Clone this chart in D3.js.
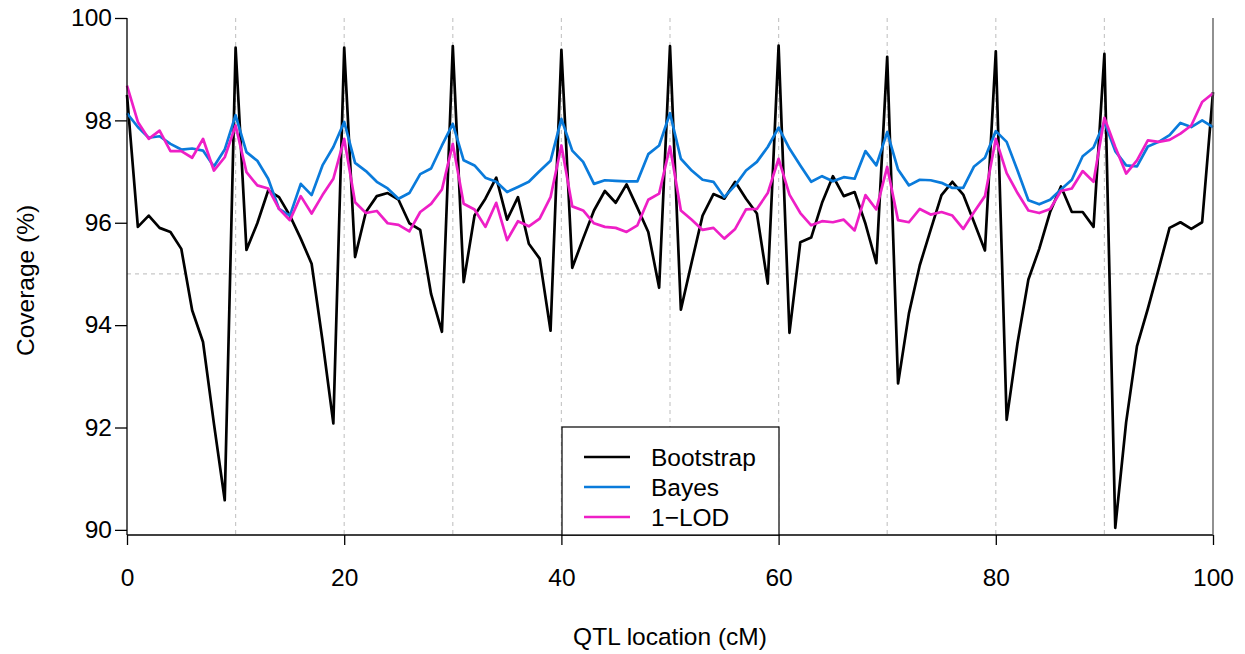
<!DOCTYPE html>
<html>
<head>
<meta charset="utf-8">
<title>Coverage</title>
<script src="https://cdnjs.cloudflare.com/ajax/libs/d3/7.8.5/d3.min.js"></script>
<style>
  body { margin: 0; background: #fff; }
  text { font-family: "Liberation Sans", Arial, sans-serif; }
</style>
</head>
<body>
<div id="chart"></div>
<script>
// QTL locations 0..100 cM
const positions = d3.range(0, 101);

const bootstrap = [
  98.50, 95.92, 96.14, 95.90, 95.82, 95.49, 94.29, 93.67, 92.08, 90.58,
  99.42, 95.47, 95.99, 96.63, 96.50, 96.14, 95.69, 95.20, 93.70, 92.08,
  99.42, 95.33, 96.21, 96.52, 96.58, 96.45, 95.99, 95.86, 94.61, 93.87,
  99.45, 94.84, 96.14, 96.47, 96.88, 96.06, 96.50, 95.59, 95.30, 93.89,
  99.38, 95.12, 95.69, 96.24, 96.62, 96.39, 96.75, 96.29, 95.82, 94.73,
  99.45, 94.30, 95.23, 96.14, 96.56, 96.47, 96.80, 96.47, 96.18, 94.81,
  99.46, 93.85, 95.62, 95.71, 96.39, 96.91, 96.52, 96.60, 95.98, 95.21,
  99.24, 92.86, 94.23, 95.17, 95.86, 96.54, 96.80, 96.55, 96.01, 95.46,
  99.35, 92.15, 93.65, 94.89, 95.49, 96.21, 96.71, 96.21, 96.21, 95.92,
  99.30, 90.04, 92.10, 93.59, 94.32, 95.10, 95.90, 96.01, 95.88, 96.01,
  98.55
];

const bayes = [
  98.14, 97.87, 97.66, 97.69, 97.54, 97.43, 97.45, 97.41, 97.10, 97.43,
  98.10, 97.38, 97.21, 96.86, 96.27, 96.14, 96.76, 96.54, 97.12, 97.48,
  97.97, 97.17, 97.01, 96.80, 96.67, 96.47, 96.58, 96.95, 97.06, 97.51,
  97.93, 97.22, 97.12, 96.88, 96.80, 96.60, 96.70, 96.80, 97.01, 97.21,
  98.03, 97.41, 97.19, 96.76, 96.83, 96.82, 96.81, 96.81, 97.34, 97.51,
  98.14, 97.25, 97.02, 96.84, 96.80, 96.50, 96.73, 97.02, 97.19, 97.48,
  97.86, 97.45, 97.12, 96.80, 96.91, 96.81, 96.89, 96.86, 97.40, 97.12,
  97.77, 97.04, 96.73, 96.84, 96.83, 96.78, 96.68, 96.68, 97.10, 97.27,
  97.79, 97.58, 97.02, 96.44, 96.36, 96.45, 96.65, 96.84, 97.30, 97.47,
  97.97, 97.40, 97.12, 97.10, 97.49, 97.58, 97.71, 97.95, 97.87, 98.00,
  97.87
];

const lod = [
  98.68, 97.97, 97.64, 97.80, 97.40, 97.40, 97.27, 97.64, 97.02, 97.28,
  97.90, 96.99, 96.73, 96.67, 96.27, 96.05, 96.52, 96.18, 96.54, 96.86,
  97.64, 96.40, 96.19, 96.23, 95.99, 95.96, 95.83, 96.21, 96.37, 96.65,
  97.54, 96.37, 96.26, 95.92, 96.39, 95.66, 96.03, 95.93, 96.08, 96.50,
  97.51, 96.32, 96.24, 95.99, 95.92, 95.90, 95.82, 95.95, 96.45, 96.57,
  97.49, 96.24, 96.06, 95.86, 95.90, 95.69, 95.88, 96.26, 96.27, 96.58,
  97.25, 96.55, 96.19, 95.95, 96.03, 96.01, 96.06, 95.85, 96.54, 96.26,
  97.09, 96.05, 96.01, 96.27, 96.16, 96.21, 96.14, 95.88, 96.21, 96.52,
  97.64, 96.97, 96.58, 96.24, 96.19, 96.27, 96.62, 96.67, 97.01, 96.80,
  98.05, 97.48, 96.96, 97.22, 97.61, 97.58, 97.62, 97.74, 97.90, 98.36,
  98.53
];

const seriesNames = ["Bootstrap", "Bayes", "1\u2212LOD"];
const seriesColors = ["#000000", "#0a7bdb", "#ee1fc6"];
const xTicks = [0, 20, 40, 60, 80, 100];
const yTicks = [90, 92, 94, 96, 98, 100];
const xGrid = [10, 20, 30, 40, 50, 60, 70, 80, 90];
const yGrid = [95];

const width = 1245, height = 654;
const mLeft = 127, mRight = 1213, mTop = 18, mBottom = 535;
const fontSize = 24.5;

const svg = d3.select("#chart").append("svg")
  .attr("width", width)
  .attr("height", height);

const x = d3.scaleLinear().domain([0, 100]).range([mLeft, mRight]);
const y = d3.scaleLinear().domain([89.9, 100]).range([mBottom, mTop]);

// grid lines
svg.append("g").selectAll("line")
  .data(xGrid).join("line")
  .attr("x1", d => x(d)).attr("x2", d => x(d))
  .attr("y1", mTop).attr("y2", mBottom)
  .attr("stroke", "#c8c8c8").attr("stroke-width", 1.2)
  .attr("stroke-dasharray", "4,4");

svg.append("g").selectAll("line")
  .data(yGrid).join("line")
  .attr("x1", mLeft).attr("x2", mRight)
  .attr("y1", d => y(d)).attr("y2", d => y(d))
  .attr("stroke", "#c8c8c8").attr("stroke-width", 1.2)
  .attr("stroke-dasharray", "4,4");

// lines
const line = d3.line()
  .x((d, i) => x(positions[i]))
  .y(d => y(d));

[bootstrap, bayes, lod].forEach((s, k) => {
  svg.append("path")
    .datum(s)
    .attr("fill", "none")
    .attr("stroke", seriesColors[k])
    .attr("stroke-width", 2.7)
    .attr("stroke-linejoin", "round")
    .attr("d", line);
});

// axes
const xAxis = svg.append("g")
  .attr("transform", `translate(0,${mBottom})`)
  .call(d3.axisBottom(x).tickValues(xTicks).tickSize(10).tickPadding(24).tickFormat(d3.format("d")));
xAxis.select(".domain").attr("d", `M${mLeft},0H${mRight}`).attr("stroke", "#000").attr("stroke-width", 1.3);
xAxis.selectAll(".tick line").attr("stroke", "#000").attr("stroke-width", 1.3);
xAxis.selectAll(".tick text").attr("font-size", fontSize).attr("fill", "#000");

const yAxis = svg.append("g")
  .attr("transform", `translate(${mLeft},0)`)
  .call(d3.axisLeft(y).tickValues(yTicks).tickSize(12).tickPadding(3).tickFormat(d3.format("d")));
yAxis.select(".domain").attr("d", `M0,${mTop}V${mBottom}`).attr("stroke", "#000").attr("stroke-width", 1.3);
yAxis.selectAll(".tick line").attr("stroke", "#000").attr("stroke-width", 1.3);
yAxis.selectAll(".tick text").attr("font-size", fontSize).attr("fill", "#000");

// right edge
svg.append("line")
  .attr("x1", mRight).attr("x2", mRight)
  .attr("y1", mTop).attr("y2", mBottom)
  .attr("stroke", "#555").attr("stroke-width", 1.3);

// axis titles
svg.append("text")
  .attr("x", (mLeft + mRight) / 2).attr("y", 645)
  .attr("text-anchor", "middle")
  .attr("font-size", fontSize)
  .text("QTL location (cM)");

svg.append("text")
  .attr("transform", `translate(34,${(mTop + mBottom) / 2 + 4}) rotate(-90)`)
  .attr("text-anchor", "middle")
  .attr("font-size", fontSize)
  .text("Coverage (%)");

// legend
const legend = svg.append("g");
legend.append("rect")
  .attr("x", 562).attr("y", 427)
  .attr("width", 217).attr("height", mBottom - 427)
  .attr("fill", "#fff").attr("stroke", "#000").attr("stroke-width", 1.2);

seriesNames.forEach((name, k) => {
  const ly = 457 + k * 30;
  legend.append("line")
    .attr("x1", 584).attr("x2", 630)
    .attr("y1", ly).attr("y2", ly)
    .attr("stroke", seriesColors[k]).attr("stroke-width", 2.7);
  legend.append("text")
    .attr("x", 651).attr("y", ly + 9)
    .attr("font-size", fontSize)
    .text(name);
});
</script>
</body>
</html>
